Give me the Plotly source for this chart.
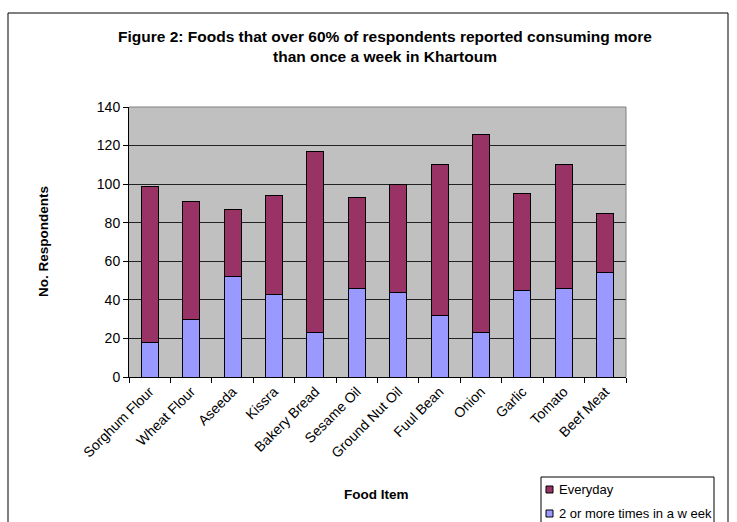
import plotly.graph_objects as go

foods = ["Sorghum Flour", "Wheat Flour", "Aseeda", "Kissra", "Bakery Bread",
         "Sesame Oil", "Ground Nut Oil", "Fuul Bean", "Onion", "Garlic",
         "Tomato", "Beef Meat"]
weekly = [18, 30, 52, 43, 23, 46, 44, 32, 23, 45, 46, 54]
everyday = [81, 61, 35, 51, 94, 47, 56, 78, 103, 50, 64, 31]
y_ticks = [0, 20, 40, 60, 80, 100, 120, 140]

series = [
    ("Everyday", everyday, "#993366"),
    ("2 or more times in a w eek", weekly, "#9999FF"),
]

FONT = "Liberation Sans, Arial, sans-serif"

fig = go.Figure()
for name, vals, color in reversed(series):
    fig.add_trace(go.Bar(
        x=foods, y=vals, name=name,
        marker=dict(color=color, line=dict(color="black", width=1)),
    ))

L, R, T, B = 129, 626, 107, 377
W, H = 737, 522
pw, ph = R - L, B - T


def px_x(x):
    return (x - L) / pw


def px_y(y):
    return (B - y) / ph


fig.update_layout(
    width=W, height=H,
    margin=dict(l=L, r=W - R, t=T, b=H - B, pad=0, autoexpand=False),
    barmode="stack",
    bargap=0.59,
    paper_bgcolor="white",
    plot_bgcolor="#C0C0C0",
    font=dict(family=FONT, size=14, color="black"),
    showlegend=False,
    xaxis=dict(
        type="category", tickangle=-45, tickson="boundaries",
        ticks="outside", ticklen=5, tickcolor="black",
        showline=True, linecolor="black", linewidth=1,
        showgrid=False, automargin=False,
        tickfont=dict(family=FONT, size=14),
    ),
    yaxis=dict(
        range=[0, 140], tickvals=y_ticks, ticktext=[str(v) for v in y_ticks],
        ticks="outside", ticklen=5, tickcolor="black",
        showline=True, linecolor="black", linewidth=1,
        showgrid=True, gridcolor="#222222", gridwidth=1,
        zeroline=False, automargin=False,
        tickfont=dict(family=FONT, size=14),
    ),
)

# Plot-area frame on top and right, outer chart frame
fig.add_shape(type="line", xref="paper", yref="paper", x0=0, x1=1, y0=1, y1=1,
              line=dict(color="#808080", width=1))
fig.add_shape(type="line", xref="paper", yref="paper", x0=1, x1=1, y0=0, y1=1,
              line=dict(color="#808080", width=1))
fig.add_shape(type="rect", xref="paper", yref="paper",
              x0=px_x(8), x1=px_x(728), y0=px_y(540), y1=px_y(13),
              line=dict(color="black", width=1), fillcolor="rgba(0,0,0,0)")

# Legend box with colour keys
fig.add_shape(type="rect", xref="paper", yref="paper",
              x0=px_x(541), x1=px_x(714), y0=px_y(540), y1=px_y(477),
              line=dict(color="black", width=1), fillcolor="white")
for i, (name, vals, color) in enumerate(series):
    cy = 489.5 + 24 * i
    fig.add_shape(type="rect", xref="paper", yref="paper",
                  x0=px_x(546), x1=px_x(553), y0=px_y(cy + 3.5), y1=px_y(cy - 3.5),
                  line=dict(color="black", width=1), fillcolor=color)
    fig.add_annotation(
        text=name, xref="paper", yref="paper", x=px_x(557), y=px_y(cy),
        showarrow=False, xanchor="left", yanchor="middle",
        font=dict(family=FONT, size=13),
    )

fig.add_annotation(
    text="<b>Figure 2: Foods that over 60% of respondents reported consuming more<br>than once a week in Khartoum</b>",
    xref="paper", yref="paper", x=px_x(385), y=px_y(47), showarrow=False,
    xanchor="center", yanchor="middle", align="center",
    font=dict(family=FONT, size=15.5),
)
fig.add_annotation(
    text="<b>Food Item</b>", xref="paper", yref="paper",
    x=px_x(376), y=px_y(494), showarrow=False,
    xanchor="center", yanchor="middle", font=dict(family=FONT, size=13.5),
)
fig.add_annotation(
    text="<b>No. Respondents</b>", xref="paper", yref="paper",
    x=px_x(43), y=px_y(242), showarrow=False, textangle=-90,
    xanchor="center", yanchor="middle", font=dict(family=FONT, size=13.5),
)

fig.write_html("out.html")
